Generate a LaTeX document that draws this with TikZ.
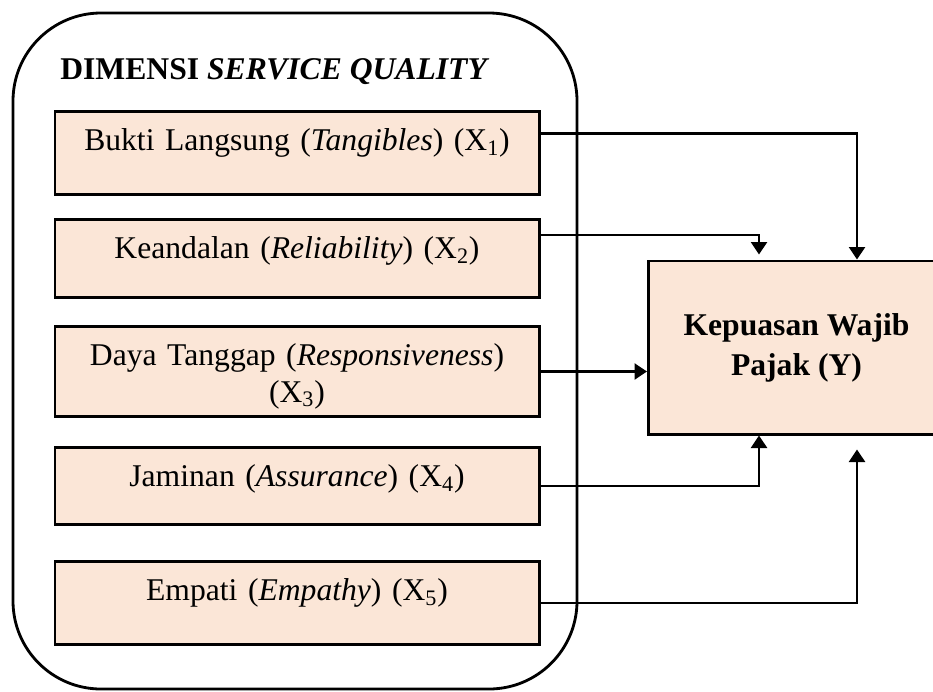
\documentclass[tikz,border=0pt]{standalone}
\usepackage{fontspec}
\setmainfont{Liberation Serif}
\usepackage{tikz}
\usetikzlibrary{arrows.meta,positioning,calc}
\definecolor{peach}{HTML}{FBE6D7}

\begin{document}
\begin{tikzpicture}[
  dim/.style={draw, fill=peach, line width=1.7pt, align=center, text width=9.0cm, inner xsep=0.34cm,
              inner ysep=0pt, text height=0.78cm, anchor=north, font=\fontsize{18}{21}\selectfont},
  hasil/.style={draw, fill=peach, line width=1.7pt, align=center, anchor=north west, minimum width=5.92cm,
                minimum height=3.46cm, font=\fontsize{18}{22.7}\selectfont\bfseries},
  arr/.style={-{Triangle[length=0.25cm,width=0.32cm]}, line width=1.4pt}]
\useasboundingbox (0,0) rectangle (18.66,-13.82);
% kelompok dimensi
\draw[line width=1.6pt, rounded corners=1.76cm] (0.26,-0.26) rectangle (11.54,-13.78);
\node[anchor=base west, inner sep=0pt, font=\fontsize{18}{21}\selectfont\bfseries] (judul) at (1.2,-1.58)
  {DIMENSI \textit{SERVICE QUALITY}};
\node[dim, text depth=0.88cm] (x1) at (5.94,-2.2)  {Bukti Langsung (\textit{Tangibles}) (X\textsubscript{1})};
\node[dim, text depth=0.78cm] (x2) at (5.94,-4.36) {Keandalan (\textit{Reliability}) (X\textsubscript{2})};
\node[dim, text depth=1.02cm] (x3) at (5.94,-6.5)  {Daya Tanggap (\textit{Responsiveness})\\(X\textsubscript{3})};
\node[dim, text depth=0.76cm] (x4) at (5.94,-8.92) {Jaminan (\textit{Assurance}) (X\textsubscript{4})};
\node[dim, text depth=0.88cm] (x5) at (5.94,-11.2) {Empati (\textit{Empathy}) (X\textsubscript{5})};
% variabel terikat
\node[hasil] (kwp) at (12.94,-5.19) {Kepuasan Wajib\\Pajak (Y)};
\coordinate (in1) at ([xshift=4.2cm]kwp.north west);
\coordinate (in2) at ([xshift=2.24cm,yshift=0.1cm]kwp.north west);
\coordinate (in4) at ([xshift=2.24cm]kwp.south west);
\coordinate (in5) at ([xshift=4.2cm,yshift=-0.28cm]kwp.south west);
\draw[arr] ([yshift=0.39cm]x1.east) -| (in1);
\draw[arr] ([yshift=0.47cm]x2.east) -| (in2);
\draw[arr] (x3.east) -- (x3.east -| kwp.west);
\draw[arr] (x4.east) -| (in4);
\draw[arr] (x5.east) -| (in5);
\end{tikzpicture}
\end{document}
